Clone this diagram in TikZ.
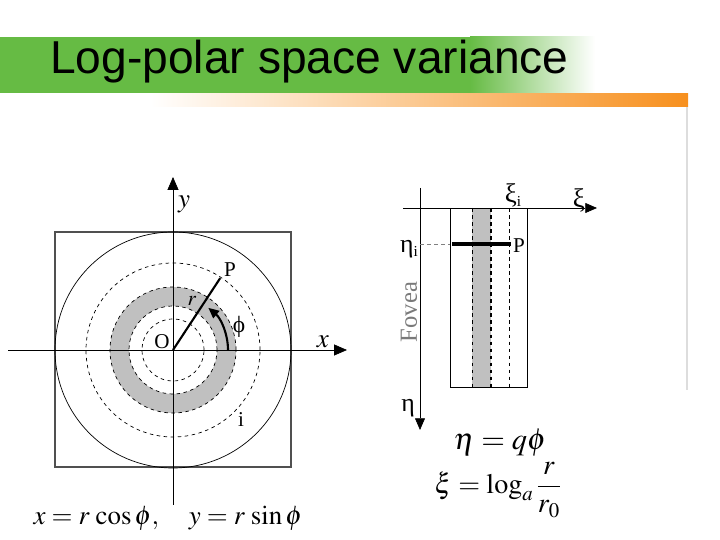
\documentclass[tikz,border=0pt]{standalone}
\usepackage{mathptmx}
\usepackage{fontspec}
\setmainfont{Liberation Serif}
\setsansfont{Liberation Sans}
\usetikzlibrary{arrows.meta,positioning,calc}
\definecolor{leaf}{HTML}{66BB44}
\definecolor{tangerine}{HTML}{F7901E}
\definecolor{ringgray}{HTML}{C0C0C0}
\definecolor{frame}{HTML}{505050}
\definecolor{foveagray}{HTML}{7A7A7A}
\definecolor{rulegray}{HTML}{DDDDDD}
\tikzset{
  axisline/.style={
    -{Triangle[length=#1, width=0.85*#1]}, line width=0.6pt, color=black
  },
  axisline/.default=11pt,
  dashring/.style={dashed, line width=0.6pt},
  solidring/.style={line width=0.6pt},
  radiusline/.style={line width=1.8pt, color=black},
  anglearrow/.style={-{Triangle[length=9pt, width=8pt]}, line width=1.8pt},
  lbl/.style={font=\fontsize{#1}{#1}\selectfont, inner sep=0pt},
  lbl/.default=18,
  titletext/.style={font=\sffamily\fontsize{39.4}{44}\selectfont, inner sep=0pt},
  stripline/.style={dashed, line width=#1},
  stripline/.default=0.6pt,
}
\newcommand{\subi}[1]{#1\raisebox{-0.35ex}{\fontsize{13}{13}\selectfont i}}

\begin{document}
\begin{tikzpicture}[x=0.03cm, y=0.03cm]
\useasboundingbox (0,0) rectangle (720,540);

% ── banner ──
\fill[leaf] (0,447) rectangle (470,503);
\shade[left color=leaf, right color=white] (470,447) rectangle (595,503);
\shade[left color=white, right color=tangerine] (150,433) rectangle (688,446);
\coordinate (rtop) at (687,433);
\coordinate (rbot) at (687,150);
\draw[rulegray, line width=1.5pt] (rtop) -- (rbot);
\node[titletext, anchor=base west] (title) at (50,466) {Log-polar space variance};

% ── Cartesian retina ──
\coordinate (O) at (173,190);
\draw[frame, line width=0.9pt] (55,73) rectangle (291,308);
\draw[solidring] (O) circle[radius=118];
\fill[ringgray, even odd rule] (O) circle[radius=63] (O) circle[radius=44];
\foreach \rr in {87,63,44,31}
  \draw[dashring] (O) circle[radius=\rr];

\coordinate (xw) at (8,190);
\coordinate (xe) at (347,190);
\coordinate (ys) at (173,35);
\coordinate (yn) at (173,363);
\draw[axisline] (xw) -- (xe);
\draw[axisline] (ys) -- (yn);

\coordinate (P) at ($(O)+(56.7:86)$);
\coordinate (arcstart) at ($(O)+(55,0)$);
\draw[radiusline] (O) -- (P);
\draw[anglearrow] (arcstart) arc[start angle=0, end angle=50, radius=55];

\node[lbl=23] (ylab) at (184,336) {$y$};
\node[lbl=23] (xlab) at (323,198) {$x$};
\node[lbl] (olab) at (162,198) {O};
\node[lbl] (plab) at (230,270) {P};
\node[lbl] (rlab) at (192,239) {$r$};
\node[lbl=20] (philab) at (239,213) {ϕ};
\node[lbl] (ilab) at (241,120) {i};
\node[lbl=23, anchor=base] (cartesian) at (168,15)
  {$x = r\,\cos\phi,\quad y = r\,\sin\phi$};

% ── log-polar cortex ──
\coordinate (xiw) at (403,332);
\coordinate (xie) at (597,332);
\coordinate (etan) at (420,352);
\coordinate (etas) at (420,110);
\draw[axisline=10pt] (xiw) -- (xie);
\draw[axisline=10pt] (etan) -- (etas);

\fill[ringgray] (472,153) rectangle (491,332);
\draw[line width=0.7pt] (450,153) rectangle (527,332);
\draw[stripline] (472,332) -- (472,153);
\draw[stripline=1.2pt] (491,332) -- (491,153);
\draw[stripline] (509,332) -- (509,153);

\coordinate (etai) at (420,296);
\coordinate (barw) at (452,296);
\coordinate (bare) at (511,296);
\draw[dashed, gray, line width=0.6pt] (etai) -- (450,296);
\draw[line width=3.5pt] (barw) -- (bare);

\node[lbl=23] (xiilab) at (513,345) {\subi{ξ}};
\node[lbl=23] (xilab) at (579,340) {ξ};
\node[lbl=22] (etailab) at (409,291) {\subi{η}};
\node[lbl] (p2lab) at (519,294) {P};
\node[lbl=21, text=foveagray, rotate=90] (fovea) at (409,228) {Fovea};
\node[lbl=22] (etalab) at (408,132) {η};

\node[lbl=26] (etaeq) at (500,97) {$\eta = q\phi$};
\node[lbl=24] (xieq) at (498,50) {$\displaystyle \xi = \log_a \frac{r}{r_0}$};
\end{tikzpicture}
\end{document}
